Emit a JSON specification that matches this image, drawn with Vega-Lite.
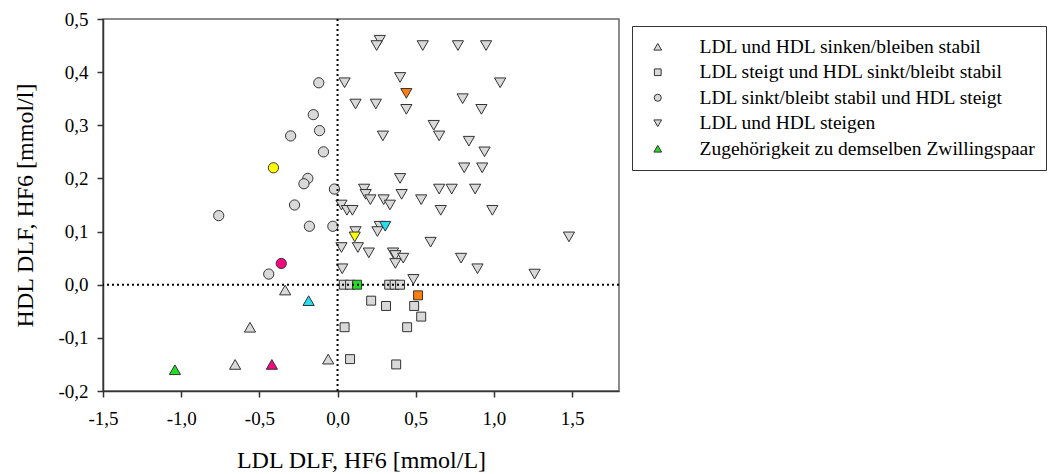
{
  "$schema": "https://vega.github.io/schema/vega-lite/v6.json",
  "width": 516,
  "height": 372,
  "autosize": {"type": "none"},
  "padding": {"left": 103, "top": 19, "right": 433, "bottom": 83},
  "background": "white",
  "config": {
    "view": {"stroke": "#666", "strokeWidth": 1.5},
    "font": "Liberation Serif",
    "axis": {"labelFont": "Liberation Serif", "titleFont": "Liberation Serif"},
    "legend": {"labelFont": "Liberation Serif"}
  },
  "data": {"values": [
    {"ldl": -0.12, "hdl": 0.38, "gruppe": "LDL sinkt/bleibt stabil und HDL steigt", "paar": "keins"},
    {"ldl": -0.155, "hdl": 0.32, "gruppe": "LDL sinkt/bleibt stabil und HDL steigt", "paar": "keins"},
    {"ldl": -0.115, "hdl": 0.29, "gruppe": "LDL sinkt/bleibt stabil und HDL steigt", "paar": "keins"},
    {"ldl": -0.30, "hdl": 0.28, "gruppe": "LDL sinkt/bleibt stabil und HDL steigt", "paar": "keins"},
    {"ldl": -0.09, "hdl": 0.25, "gruppe": "LDL sinkt/bleibt stabil und HDL steigt", "paar": "keins"},
    {"ldl": -0.19, "hdl": 0.20, "gruppe": "LDL sinkt/bleibt stabil und HDL steigt", "paar": "keins"},
    {"ldl": -0.215, "hdl": 0.19, "gruppe": "LDL sinkt/bleibt stabil und HDL steigt", "paar": "keins"},
    {"ldl": -0.02, "hdl": 0.18, "gruppe": "LDL sinkt/bleibt stabil und HDL steigt", "paar": "keins"},
    {"ldl": -0.275, "hdl": 0.15, "gruppe": "LDL sinkt/bleibt stabil und HDL steigt", "paar": "keins"},
    {"ldl": -0.76, "hdl": 0.13, "gruppe": "LDL sinkt/bleibt stabil und HDL steigt", "paar": "keins"},
    {"ldl": -0.18, "hdl": 0.11, "gruppe": "LDL sinkt/bleibt stabil und HDL steigt", "paar": "keins"},
    {"ldl": -0.03, "hdl": 0.11, "gruppe": "LDL sinkt/bleibt stabil und HDL steigt", "paar": "keins"},
    {"ldl": -0.44, "hdl": 0.02, "gruppe": "LDL sinkt/bleibt stabil und HDL steigt", "paar": "keins"},
    {"ldl": -0.335, "hdl": -0.01, "gruppe": "LDL und HDL sinken/bleiben stabil", "paar": "keins"},
    {"ldl": -0.56, "hdl": -0.08, "gruppe": "LDL und HDL sinken/bleiben stabil", "paar": "keins"},
    {"ldl": -0.655, "hdl": -0.15, "gruppe": "LDL und HDL sinken/bleiben stabil", "paar": "keins"},
    {"ldl": -0.06, "hdl": -0.14, "gruppe": "LDL und HDL sinken/bleiben stabil", "paar": "keins"},
    {"ldl": 0.04, "hdl": 0.0, "gruppe": "LDL steigt und HDL sinkt/bleibt stabil", "paar": "keins"},
    {"ldl": 0.08, "hdl": 0.0, "gruppe": "LDL steigt und HDL sinkt/bleibt stabil", "paar": "keins"},
    {"ldl": 0.33, "hdl": 0.0, "gruppe": "LDL steigt und HDL sinkt/bleibt stabil", "paar": "keins"},
    {"ldl": 0.365, "hdl": 0.0, "gruppe": "LDL steigt und HDL sinkt/bleibt stabil", "paar": "keins"},
    {"ldl": 0.40, "hdl": 0.0, "gruppe": "LDL steigt und HDL sinkt/bleibt stabil", "paar": "keins"},
    {"ldl": 0.215, "hdl": -0.03, "gruppe": "LDL steigt und HDL sinkt/bleibt stabil", "paar": "keins"},
    {"ldl": 0.31, "hdl": -0.04, "gruppe": "LDL steigt und HDL sinkt/bleibt stabil", "paar": "keins"},
    {"ldl": 0.49, "hdl": -0.04, "gruppe": "LDL steigt und HDL sinkt/bleibt stabil", "paar": "keins"},
    {"ldl": 0.535, "hdl": -0.06, "gruppe": "LDL steigt und HDL sinkt/bleibt stabil", "paar": "keins"},
    {"ldl": 0.045, "hdl": -0.08, "gruppe": "LDL steigt und HDL sinkt/bleibt stabil", "paar": "keins"},
    {"ldl": 0.445, "hdl": -0.08, "gruppe": "LDL steigt und HDL sinkt/bleibt stabil", "paar": "keins"},
    {"ldl": 0.08, "hdl": -0.14, "gruppe": "LDL steigt und HDL sinkt/bleibt stabil", "paar": "keins"},
    {"ldl": 0.375, "hdl": -0.15, "gruppe": "LDL steigt und HDL sinkt/bleibt stabil", "paar": "keins"},
    {"ldl": 0.27, "hdl": 0.46, "gruppe": "LDL und HDL steigen", "paar": "keins"},
    {"ldl": 0.25, "hdl": 0.45, "gruppe": "LDL und HDL steigen", "paar": "keins"},
    {"ldl": 0.545, "hdl": 0.45, "gruppe": "LDL und HDL steigen", "paar": "keins"},
    {"ldl": 0.77, "hdl": 0.45, "gruppe": "LDL und HDL steigen", "paar": "keins"},
    {"ldl": 0.95, "hdl": 0.45, "gruppe": "LDL und HDL steigen", "paar": "keins"},
    {"ldl": 0.045, "hdl": 0.38, "gruppe": "LDL und HDL steigen", "paar": "keins"},
    {"ldl": 0.40, "hdl": 0.39, "gruppe": "LDL und HDL steigen", "paar": "keins"},
    {"ldl": 1.04, "hdl": 0.38, "gruppe": "LDL und HDL steigen", "paar": "keins"},
    {"ldl": 0.115, "hdl": 0.34, "gruppe": "LDL und HDL steigen", "paar": "keins"},
    {"ldl": 0.245, "hdl": 0.34, "gruppe": "LDL und HDL steigen", "paar": "keins"},
    {"ldl": 0.44, "hdl": 0.33, "gruppe": "LDL und HDL steigen", "paar": "keins"},
    {"ldl": 0.80, "hdl": 0.35, "gruppe": "LDL und HDL steigen", "paar": "keins"},
    {"ldl": 0.92, "hdl": 0.33, "gruppe": "LDL und HDL steigen", "paar": "keins"},
    {"ldl": 0.29, "hdl": 0.28, "gruppe": "LDL und HDL steigen", "paar": "keins"},
    {"ldl": 0.615, "hdl": 0.30, "gruppe": "LDL und HDL steigen", "paar": "keins"},
    {"ldl": 0.65, "hdl": 0.28, "gruppe": "LDL und HDL steigen", "paar": "keins"},
    {"ldl": 0.84, "hdl": 0.27, "gruppe": "LDL und HDL steigen", "paar": "keins"},
    {"ldl": 0.94, "hdl": 0.25, "gruppe": "LDL und HDL steigen", "paar": "keins"},
    {"ldl": 0.81, "hdl": 0.22, "gruppe": "LDL und HDL steigen", "paar": "keins"},
    {"ldl": 0.925, "hdl": 0.22, "gruppe": "LDL und HDL steigen", "paar": "keins"},
    {"ldl": 0.40, "hdl": 0.20, "gruppe": "LDL und HDL steigen", "paar": "keins"},
    {"ldl": 0.17, "hdl": 0.18, "gruppe": "LDL und HDL steigen", "paar": "keins"},
    {"ldl": 0.18, "hdl": 0.17, "gruppe": "LDL und HDL steigen", "paar": "keins"},
    {"ldl": 0.21, "hdl": 0.16, "gruppe": "LDL und HDL steigen", "paar": "keins"},
    {"ldl": 0.41, "hdl": 0.17, "gruppe": "LDL und HDL steigen", "paar": "keins"},
    {"ldl": 0.295, "hdl": 0.16, "gruppe": "LDL und HDL steigen", "paar": "keins"},
    {"ldl": 0.335, "hdl": 0.15, "gruppe": "LDL und HDL steigen", "paar": "keins"},
    {"ldl": 0.535, "hdl": 0.16, "gruppe": "LDL und HDL steigen", "paar": "keins"},
    {"ldl": 0.65, "hdl": 0.18, "gruppe": "LDL und HDL steigen", "paar": "keins"},
    {"ldl": 0.73, "hdl": 0.18, "gruppe": "LDL und HDL steigen", "paar": "keins"},
    {"ldl": 0.88, "hdl": 0.18, "gruppe": "LDL und HDL steigen", "paar": "keins"},
    {"ldl": 0.66, "hdl": 0.14, "gruppe": "LDL und HDL steigen", "paar": "keins"},
    {"ldl": 0.025, "hdl": 0.15, "gruppe": "LDL und HDL steigen", "paar": "keins"},
    {"ldl": 0.06, "hdl": 0.14, "gruppe": "LDL und HDL steigen", "paar": "keins"},
    {"ldl": 0.095, "hdl": 0.14, "gruppe": "LDL und HDL steigen", "paar": "keins"},
    {"ldl": 0.99, "hdl": 0.14, "gruppe": "LDL und HDL steigen", "paar": "keins"},
    {"ldl": 0.27, "hdl": 0.11, "gruppe": "LDL und HDL steigen", "paar": "keins"},
    {"ldl": 0.255, "hdl": 0.10, "gruppe": "LDL und HDL steigen", "paar": "keins"},
    {"ldl": 0.115, "hdl": 0.10, "gruppe": "LDL und HDL steigen", "paar": "keins"},
    {"ldl": 0.595, "hdl": 0.08, "gruppe": "LDL und HDL steigen", "paar": "keins"},
    {"ldl": 1.48, "hdl": 0.09, "gruppe": "LDL und HDL steigen", "paar": "keins"},
    {"ldl": 0.025, "hdl": 0.07, "gruppe": "LDL und HDL steigen", "paar": "keins"},
    {"ldl": 0.13, "hdl": 0.07, "gruppe": "LDL und HDL steigen", "paar": "keins"},
    {"ldl": 0.20, "hdl": 0.06, "gruppe": "LDL und HDL steigen", "paar": "keins"},
    {"ldl": 0.355, "hdl": 0.06, "gruppe": "LDL und HDL steigen", "paar": "keins"},
    {"ldl": 0.37, "hdl": 0.055, "gruppe": "LDL und HDL steigen", "paar": "keins"},
    {"ldl": 0.42, "hdl": 0.05, "gruppe": "LDL und HDL steigen", "paar": "keins"},
    {"ldl": 0.37, "hdl": 0.04, "gruppe": "LDL und HDL steigen", "paar": "keins"},
    {"ldl": 0.79, "hdl": 0.05, "gruppe": "LDL und HDL steigen", "paar": "keins"},
    {"ldl": 0.03, "hdl": 0.03, "gruppe": "LDL und HDL steigen", "paar": "keins"},
    {"ldl": 0.895, "hdl": 0.03, "gruppe": "LDL und HDL steigen", "paar": "keins"},
    {"ldl": 0.485, "hdl": 0.01, "gruppe": "LDL und HDL steigen", "paar": "keins"},
    {"ldl": 1.26, "hdl": 0.02, "gruppe": "LDL und HDL steigen", "paar": "keins"},
    {"ldl": -0.41, "hdl": 0.22, "gruppe": "LDL sinkt/bleibt stabil und HDL steigt", "paar": "gelb"},
    {"ldl": 0.11, "hdl": 0.09, "gruppe": "LDL und HDL steigen", "paar": "gelb"},
    {"ldl": -0.36, "hdl": 0.04, "gruppe": "LDL sinkt/bleibt stabil und HDL steigt", "paar": "pink"},
    {"ldl": -0.42, "hdl": -0.15, "gruppe": "LDL und HDL sinken/bleiben stabil", "paar": "pink"},
    {"ldl": -0.185, "hdl": -0.03, "gruppe": "LDL und HDL sinken/bleiben stabil", "paar": "cyan"},
    {"ldl": 0.305, "hdl": 0.11, "gruppe": "LDL und HDL steigen", "paar": "cyan"},
    {"ldl": -1.04, "hdl": -0.16, "gruppe": "LDL und HDL sinken/bleiben stabil", "paar": "gruen"},
    {"ldl": 0.125, "hdl": 0.0, "gruppe": "LDL steigt und HDL sinkt/bleibt stabil", "paar": "gruen"},
    {"ldl": 0.44, "hdl": 0.36, "gruppe": "LDL und HDL steigen", "paar": "orange"},
    {"ldl": 0.515, "hdl": -0.02, "gruppe": "LDL steigt und HDL sinkt/bleibt stabil", "paar": "orange"}
  ]},
  "layer": [
    {
      "mark": {"type": "point", "filled": true, "opacity": 1, "stroke": "#333", "strokeWidth": 1},
      "encoding": {
        "x": {
          "field": "ldl", "type": "quantitative",
          "scale": {"domain": [-1.5, 1.8], "nice": false, "zero": false},
          "axis": {
            "title": "LDL DLF, HF6 [mmol/L]",
            "values": [-1.5, -1, -0.5, 0, 0.5, 1, 1.5],
            "labelExpr": "replace(replace(format(datum.value, '.1f'), '.', ','), '−', '-')",
            "labelFont": "Liberation Serif", "labelFontSize": 19, "labelColor": "black",
            "labelFlush": false, "labelOverlap": false, "labelPadding": 12,
            "tickColor": "#333", "tickSize": 6, "tickWidth": 1.5,
            "domainColor": "#333", "domainWidth": 1.5, "grid": false,
            "titleFont": "Liberation Serif", "titleFontSize": 24, "titleFontWeight": "normal",
            "titleColor": "black", "titleY": 76, "titleBaseline": "alphabetic"
          }
        },
        "y": {
          "field": "hdl", "type": "quantitative",
          "scale": {"domain": [-0.2, 0.5], "nice": false, "zero": false},
          "axis": {
            "title": "HDL DLF, HF6 [mmol/l]",
            "values": [-0.2, -0.1, 0, 0.1, 0.2, 0.3, 0.4, 0.5],
            "labelExpr": "replace(replace(format(datum.value, '.1f'), '.', ','), '−', '-')",
            "labelFont": "Liberation Serif", "labelFontSize": 19, "labelColor": "black",
            "labelFlush": false, "labelOverlap": false, "labelPadding": 9,
            "tickColor": "#333", "tickSize": 6, "tickWidth": 1.5,
            "domainColor": "#333", "domainWidth": 1.5, "grid": false,
            "titleFont": "Liberation Serif", "titleFontSize": 24, "titleFontWeight": "normal",
            "titleColor": "black", "titleX": -71, "titleY": 186, "titleAngle": -90,
            "titleAlign": "center", "titleBaseline": "alphabetic"
          }
        },
        "shape": {
          "field": "gruppe", "type": "nominal",
          "scale": {
            "domain": ["LDL und HDL sinken/bleiben stabil", "LDL steigt und HDL sinkt/bleibt stabil", "LDL sinkt/bleibt stabil und HDL steigt", "LDL und HDL steigen", "Zugehörigkeit zu demselben Zwillingspaar"],
            "range": ["triangle-up", "square", "circle", "triangle-down", "triangle-up"]
          },
          "legend": {
            "title": null, "orient": "none", "legendX": 529, "legendY": 7,
            "strokeColor": "#333", "padding": 11,
            "labelFont": "Liberation Serif", "labelFontSize": 19.5, "labelColor": "black", "labelLimit": 600,
            "symbolSize": 55, "symbolStrokeWidth": 1, "symbolStrokeColor": "#333", "symbolFillColor": "#d9d9d9", "symbolOpacity": 1,
            "rowPadding": 4.5, "labelOffset": 32, "symbolOffset": 5,
            "encode": {"symbols": {"update": {
              "fill": {"signal": "datum.value === 'Zugehörigkeit zu demselben Zwillingspaar' ? '#22dd22' : '#d9d9d9'"},
              "stroke": {"value": "#333"}, "opacity": {"value": 1},
              "size": {"signal": "datum.value === 'LDL steigt und HDL sinkt/bleibt stabil' ? 45 : (datum.value === 'LDL sinkt/bleibt stabil und HDL steigt' ? 50 : 60)"}
            }}}
          }
        },
        "fill": {
          "field": "paar", "type": "nominal",
          "scale": {"domain": ["keins", "gelb", "pink", "cyan", "gruen", "orange"], "range": ["#d9d9d9", "#ffff00", "#f5087f", "#22e0f0", "#22dd22", "#ff7f0e"]},
          "legend": null
        },
        "size": {
          "field": "gruppe", "type": "nominal",
          "scale": {
            "type": "ordinal",
            "domain": ["LDL sinkt/bleibt stabil und HDL steigt", "LDL steigt und HDL sinkt/bleibt stabil", "LDL und HDL sinken/bleiben stabil", "LDL und HDL steigen"],
            "range": [105, 80, 125, 125]
          },
          "legend": null
        }
      }
    },
    {
      "data": {"values": [{"null": 0}]},
      "mark": {"type": "rule", "strokeDash": [2, 3], "strokeWidth": 2, "color": "black"},
      "encoding": {"x": {"field": "null", "type": "quantitative"}}
    },
    {
      "data": {"values": [{"null": 0}]},
      "mark": {"type": "rule", "strokeDash": [2, 3], "strokeWidth": 2, "color": "black"},
      "encoding": {"y": {"field": "null", "type": "quantitative"}}
    }
  ]
}
